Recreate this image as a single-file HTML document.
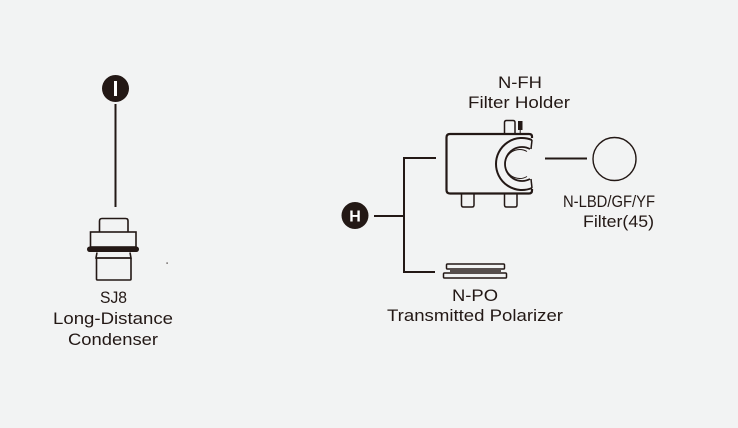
<!DOCTYPE html>
<html>
<head>
<meta charset="utf-8">
<style>
  html, body { margin: 0; padding: 0; background: #f2f3f3; }
  svg { display: block; }
  text { font-family: "Liberation Sans", sans-serif; font-size: 17px; fill: #231815; }
</style>
</head>
<body>
<svg width="738" height="428" viewBox="0 0 738 428" xmlns="http://www.w3.org/2000/svg">
  <rect x="0" y="0" width="738" height="428" fill="#f2f3f3"/>

  <!-- Left: I badge -->
  <circle cx="115.5" cy="88.5" r="13.5" fill="#231815"/>
  <rect x="114" y="81" width="3" height="15" fill="#ffffff"/>
  <line x1="115.5" y1="104" x2="115.5" y2="207" stroke="#231815" stroke-width="2"/>

  <!-- Condenser -->
  <g fill="none" stroke="#231815" stroke-width="1.6">
    <path d="M99.5,232 V221 Q99.5,218.5 102,218.5 H125.5 Q128,218.5 128,221 V232"/>
    <rect x="90.5" y="232" width="45.5" height="15"/>
    <path d="M97,252.5 L96,258 H131 L130,252.5"/>
    <rect x="96.5" y="258" width="34.5" height="22" rx="1"/>
  </g>
  <rect x="87" y="246.5" width="52" height="5.5" rx="2.7" fill="#231815"/>
  <rect x="166.5" y="262.5" width="1.2" height="1.2" fill="#231815"/>

  <text x="113.5" y="303" text-anchor="middle" textLength="27" lengthAdjust="spacingAndGlyphs">SJ8</text>
  <text x="113" y="324" text-anchor="middle" textLength="120" lengthAdjust="spacingAndGlyphs">Long-Distance</text>
  <text x="113" y="345" text-anchor="middle" textLength="90" lengthAdjust="spacingAndGlyphs">Condenser</text>

  <!-- Right: H badge and tree -->
  <circle cx="355" cy="215.5" r="13.5" fill="#231815"/>
  <text x="355" y="221.5" text-anchor="middle" style="fill:#ffffff;font-weight:bold;font-size:16px;">H</text>
  <g stroke="#231815" stroke-width="2" fill="none">
    <line x1="374" y1="216" x2="404" y2="216"/>
    <polyline points="436,158 404,158 404,272 435,272"/>
    <line x1="545" y1="158.5" x2="587" y2="158.5"/>
  </g>

  <!-- Filter holder -->
  <g fill="none" stroke="#231815">
    <!-- top knob -->
    <path d="M504.5,134 V122.5 Q504.5,120.5 506.5,120.5 H513 Q515,120.5 515,122.5 V134" stroke-width="1.5"/>
    <!-- feet -->
    <path d="M461.5,194 V205 Q461.5,207 463.5,207 H472 Q474,207 474,205 V194" stroke-width="1.5"/>
    <path d="M504.5,194 V205 Q504.5,207 506.5,207 H515 Q517,207 517,205 V194" stroke-width="1.5"/>
    <!-- body -->
    <path d="M532,138 V136.5 Q532,134 529,134 H450 Q446.5,134 446.5,137.5 V190 Q446.5,193.5 450,193.5 H529 Q532,193.5 532,190.5 V189" stroke-width="2.2"/>
    <!-- C shape -->
    <path d="M532,140 A26,26 0 1 0 532,188" stroke-width="2"/>
    <path d="M530,149 A17,17 0 1 0 530,179" stroke-width="1.8"/>
    <path d="M527,151.5 A14.5,14.5 0 1 0 527,176.5" stroke-width="1"/>
    <line x1="532" y1="140" x2="531" y2="149" stroke-width="1.5"/>
    <line x1="532" y1="188" x2="531" y2="179" stroke-width="1.5"/>
  </g>
  <rect x="518" y="121" width="4.5" height="9" fill="#231815"/>
  <line x1="520.2" y1="130" x2="520.2" y2="134" stroke="#231815" stroke-width="1"/>

  <!-- Filter circle -->
  <circle cx="614.5" cy="159" r="21.5" fill="none" stroke="#231815" stroke-width="1.4"/>

  <!-- Polarizer -->
  <g fill="none" stroke="#231815" stroke-width="1.5">
    <rect x="446.5" y="264" width="58" height="5" rx="1"/>
    <line x1="450" y1="271" x2="501" y2="271"/>
    <rect x="443.5" y="273" width="63" height="5" rx="1"/>
  </g>

  <!-- Labels right -->
  <text x="520" y="88" text-anchor="middle" textLength="44" lengthAdjust="spacingAndGlyphs">N-FH</text>
  <text x="519" y="108" text-anchor="middle" textLength="102" lengthAdjust="spacingAndGlyphs">Filter Holder</text>
  <text x="563" y="207" textLength="92" lengthAdjust="spacingAndGlyphs">N-LBD/GF/YF</text>
  <text x="583" y="227" textLength="71" lengthAdjust="spacingAndGlyphs">Filter(45)</text>
  <text x="475" y="301" text-anchor="middle" textLength="46" lengthAdjust="spacingAndGlyphs">N-PO</text>
  <text x="475" y="321" text-anchor="middle" textLength="176" lengthAdjust="spacingAndGlyphs">Transmitted Polarizer</text>
</svg>
</body>
</html>
